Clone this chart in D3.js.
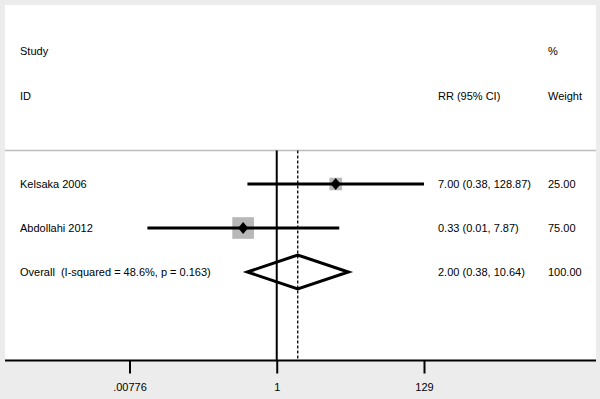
<!DOCTYPE html>
<html><head><meta charset="utf-8">
<script src="https://cdn.jsdelivr.net/npm/d3@7/dist/d3.min.js"></script>
<style>html,body{margin:0;padding:0;background:#ececec;}svg{display:block;}text{white-space:pre;}</style>
</head><body>
<script>
const studies = ["Kelsaka 2006", "Abdollahi 2012"];
const rr = [7.00, 0.33];
const lower = [0.38, 0.014];
const upper = [128.87, 7.87];
const rrLabels = ["7.00 (0.38, 128.87)", "0.33 (0.01, 7.87)"];
const weights = [25.00, 75.00];
const weightLabels = ["25.00", "75.00"];
const overallLabel = "Overall  (I-squared = 48.6%, p = 0.163)";
const overall = [2.00, 0.38, 10.64];
const overallRRLabel = "2.00 (0.38, 10.64)";
const overallWeightLabel = "100.00";
const tickValues = [0.00776, 1, 129];
const tickLabels = [".00776", "1", "129"];

const W = 600, H = 399;
const svg = d3.select("body").append("svg").attr("width", W).attr("height", H);
const font = "Liberation Sans, Arial, sans-serif";

svg.append("rect").attr("x", 0).attr("y", 0).attr("width", W).attr("height", H).attr("fill", "#ececec");
svg.append("rect").attr("x", 5).attr("y", 5).attr("width", 591).attr("height", 356).attr("fill", "#ffffff");

const x = d3.scaleLog().domain([0.00776, 129]).range([129.5, 424]);
const rowY = d3.scalePoint().domain([...studies, "Overall"]).range([184, 272]);
const yTop = 150.5, yAxis = 360.5;

// header
const hdr = svg.append("g").attr("font-family", font).attr("font-size", 11).attr("fill", "#000");
hdr.append("text").attr("x", 20).attr("y", 55).text("Study");
hdr.append("text").attr("x", 20).attr("y", 100).text("ID");
hdr.append("text").attr("x", 548).attr("y", 55).text("%");
hdr.append("text").attr("x", 438).attr("y", 100).text("RR (95% CI)");
hdr.append("text").attr("x", 548).attr("y", 100).text("Weight");

svg.append("line").attr("x1", 5).attr("x2", 596).attr("y1", yTop).attr("y2", yTop)
  .attr("stroke", "#bdbdbd").attr("stroke-width", 1.5);

// reference lines
svg.append("line").attr("x1", x(1)).attr("x2", x(1)).attr("y1", yTop).attr("y2", yAxis)
  .attr("stroke", "#000").attr("stroke-width", 2);
svg.append("line").attr("x1", x(overall[0])).attr("x2", x(overall[0])).attr("y1", yTop).attr("y2", yAxis)
  .attr("stroke", "#000").attr("stroke-width", 1.3).attr("stroke-dasharray", "3,2");

// studies
const sideScale = d3.scaleSqrt().domain([0, 100]).range([0, 25]);
studies.forEach((s, i) => {
  const y = rowY(s);
  const side = sideScale(weights[i]);
  svg.append("rect").attr("x", x(rr[i]) - side / 2).attr("y", y - side / 2)
    .attr("width", side).attr("height", side).attr("fill", "#b8b8b8");
  svg.append("line").attr("x1", x(lower[i])).attr("x2", x(upper[i])).attr("y1", y).attr("y2", y)
    .attr("stroke", "#000").attr("stroke-width", 3);
  const cx = x(rr[i]);
  svg.append("path").attr("d", `M${cx-5},${y}L${cx},${y-6}L${cx+5},${y}L${cx},${y+6}Z`).attr("fill", "#000");
  svg.append("text").attr("x", 20).attr("y", y + 4).attr("font-family", font).attr("font-size", 11).text(s);
  svg.append("text").attr("x", 438).attr("y", y + 4).attr("font-family", font).attr("font-size", 11).text(rrLabels[i]);
  svg.append("text").attr("x", 548).attr("y", y + 4).attr("font-family", font).attr("font-size", 11).text(weightLabels[i]);
});

// overall
const oy = rowY("Overall");
svg.append("path")
  .attr("d", `M${x(overall[1])},${oy}L${x(overall[0])},${oy-17}L${x(overall[2])},${oy}L${x(overall[0])},${oy+17}Z`)
  .attr("fill", "none").attr("stroke", "#000").attr("stroke-width", 3).attr("stroke-linejoin", "miter");
svg.append("text").attr("x", 20).attr("y", oy + 4).attr("font-family", font).attr("font-size", 11)
  .attr("xml:space", "preserve").text(overallLabel);
svg.append("text").attr("x", 438).attr("y", oy + 4).attr("font-family", font).attr("font-size", 11).text(overallRRLabel);
svg.append("text").attr("x", 548).attr("y", oy + 4).attr("font-family", font).attr("font-size", 11).text(overallWeightLabel);

// axis
const axis = d3.axisBottom(x).tickValues(tickValues).tickFormat((d, i) => tickLabels[i]).tickSize(13).tickPadding(10);
const ag = svg.append("g").attr("transform", `translate(0,${yAxis})`).call(axis);
ag.select(".domain").remove();
ag.selectAll(".tick line").attr("stroke", "#000").attr("stroke-width", 2);
ag.selectAll(".tick text").attr("font-family", font).attr("font-size", 11).attr("fill", "#000");
svg.append("line").attr("x1", 5).attr("x2", 596).attr("y1", yAxis).attr("y2", yAxis)
  .attr("stroke", "#000").attr("stroke-width", 2.2);
</script>
</body></html>
